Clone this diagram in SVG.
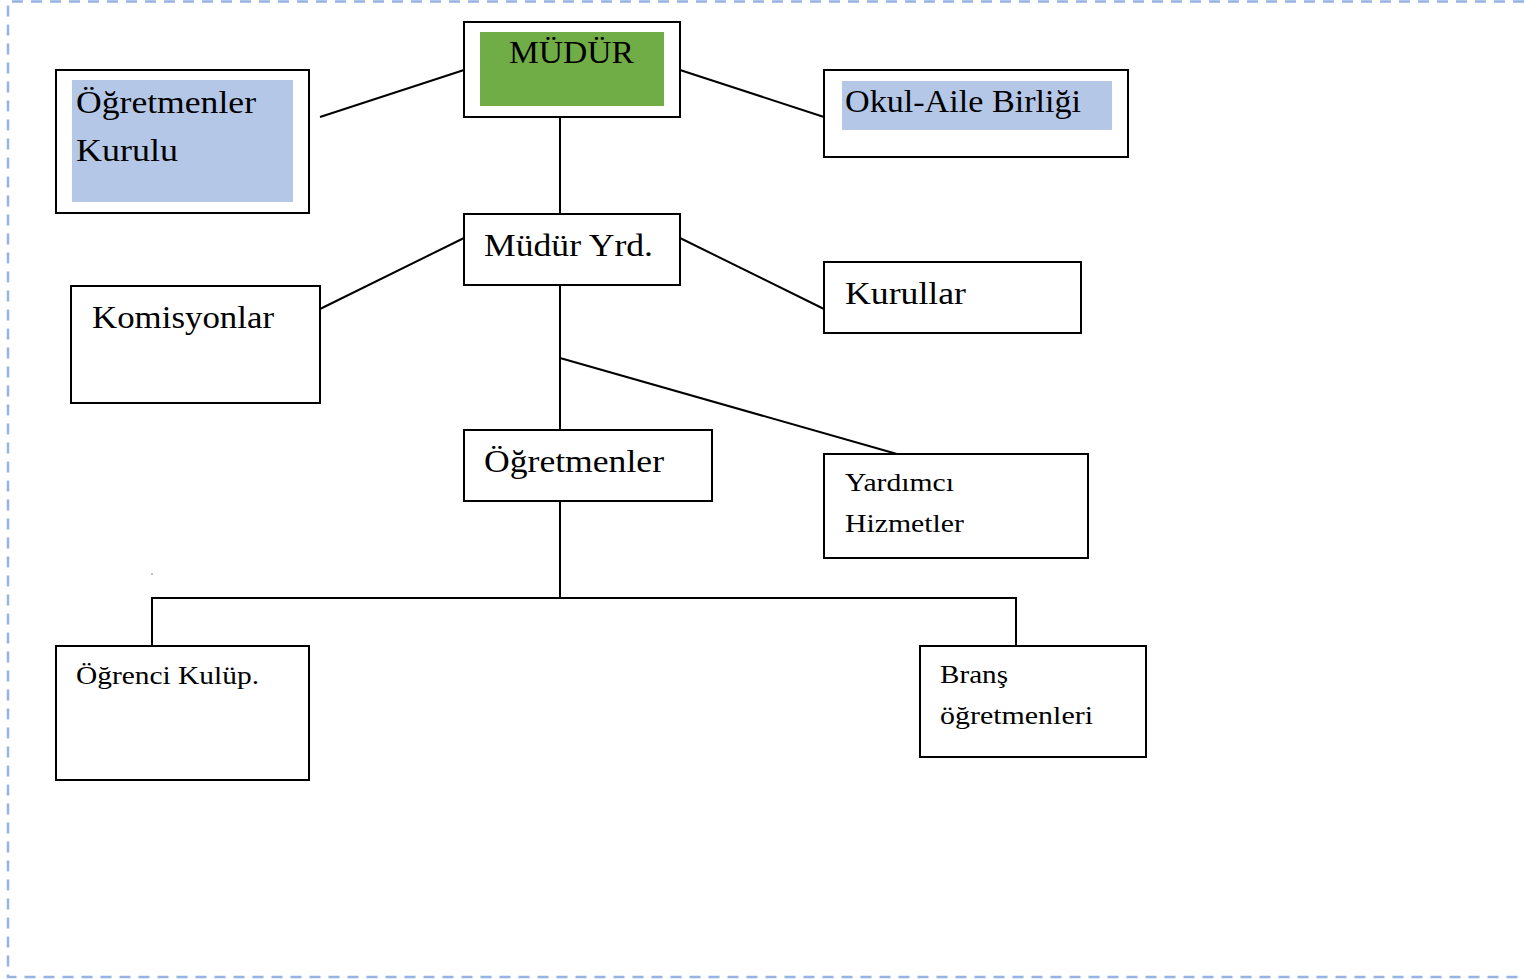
<svg xmlns="http://www.w3.org/2000/svg" width="1524" height="979" viewBox="0 0 1524 979">
<style>
.box{fill:#fff;stroke:#000;stroke-width:2}
.blue{fill:#b4c7e7}
.green{fill:#70ad47}
.t{font-family:"Liberation Serif","Times New Roman",serif;fill:#000}
.big{font-size:32px}
.sm{font-size:26px}
.con{stroke:#000;stroke-width:2;fill:none}
.frame{stroke:#95b3e3;stroke-width:2.5;fill:none;stroke-dasharray:11 8}
</style>
<rect width="1524" height="979" fill="#fff"/>
<path class="frame" d="M1524 1.5 H8 V977 H1524"/>
<g id="connectors">
<line class="con" x1="464" y1="70" x2="320" y2="117"/>
<line class="con" x1="680" y1="70" x2="824" y2="117"/>
<line class="con" x1="560" y1="117" x2="560" y2="214"/>
<line class="con" x1="464" y1="238" x2="320" y2="309"/>
<line class="con" x1="680" y1="238" x2="824" y2="309"/>
<line class="con" x1="560" y1="285" x2="560" y2="430"/>
<line class="con" x1="560" y1="358" x2="897" y2="454"/>
<line class="con" x1="560" y1="501" x2="560" y2="598"/>
<polyline class="con" points="152,646 152,598 1016,598 1016,646"/>
<rect x="151.5" y="573.5" width="1" height="1" fill="#000"/>
</g>
<g id="mudur">
<rect class="box" x="464" y="22" width="216" height="95"/>
<rect class="green" x="480" y="32" width="184" height="74"/>
<text class="t big" x="509" y="63" textLength="125" lengthAdjust="spacingAndGlyphs">MÜDÜR</text>
</g>
<g id="ogretmenler-kurulu">
<rect class="box" x="56" y="70" width="253" height="143"/>
<rect class="blue" x="72" y="80" width="221" height="122"/>
<text class="t big" x="76" y="113" textLength="180" lengthAdjust="spacingAndGlyphs">Öğretmenler</text>
<text class="t big" x="76" y="161" textLength="102" lengthAdjust="spacingAndGlyphs">Kurulu</text>
</g>
<g id="okul-aile">
<rect class="box" x="824" y="70" width="304" height="87"/>
<rect class="blue" x="842" y="81" width="270" height="49"/>
<text class="t big" x="845" y="112" textLength="236" lengthAdjust="spacingAndGlyphs">Okul-Aile Birliği</text>
</g>
<g id="mudur-yrd">
<rect class="box" x="464" y="214" width="216" height="71"/>
<text class="t big" x="484" y="256" textLength="169" lengthAdjust="spacingAndGlyphs">Müdür Yrd.</text>
</g>
<g id="komisyonlar">
<rect class="box" x="71" y="286" width="249" height="117"/>
<text class="t big" x="92" y="328" textLength="182" lengthAdjust="spacingAndGlyphs">Komisyonlar</text>
</g>
<g id="kurullar">
<rect class="box" x="824" y="262" width="257" height="71"/>
<text class="t big" x="845" y="304" textLength="121" lengthAdjust="spacingAndGlyphs">Kurullar</text>
</g>
<g id="ogretmenler">
<rect class="box" x="464" y="430" width="248" height="71"/>
<text class="t big" x="484" y="472" textLength="180" lengthAdjust="spacingAndGlyphs">Öğretmenler</text>
</g>
<g id="yardimci">
<rect class="box" x="824" y="454" width="264" height="104"/>
<text class="t sm" x="845" y="491" textLength="109" lengthAdjust="spacingAndGlyphs">Yardımcı</text>
<text class="t sm" x="845" y="532" textLength="119" lengthAdjust="spacingAndGlyphs">Hizmetler</text>
</g>
<g id="ogrenci-kulup">
<rect class="box" x="56" y="646" width="253" height="134"/>
<text class="t sm" x="76" y="684" textLength="183" lengthAdjust="spacingAndGlyphs">Öğrenci Kulüp.</text>
</g>
<g id="brans">
<rect class="box" x="920" y="646" width="226" height="111"/>
<text class="t sm" x="940" y="683" textLength="68" lengthAdjust="spacingAndGlyphs">Branş</text>
<text class="t sm" x="940" y="724" textLength="153" lengthAdjust="spacingAndGlyphs">öğretmenleri</text>
</g>
</svg>
